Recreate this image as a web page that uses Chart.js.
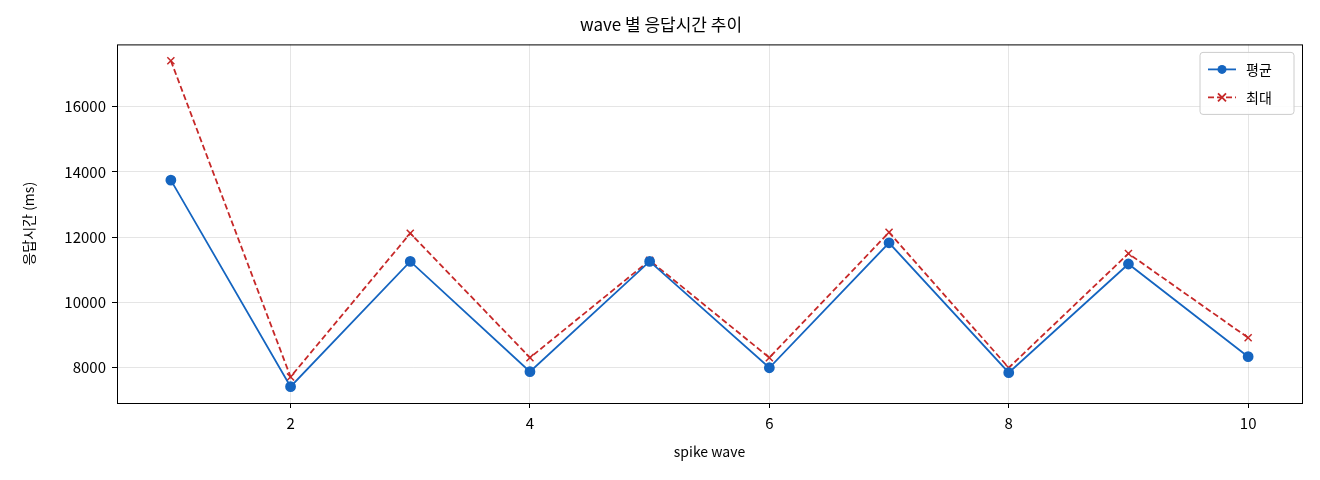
<!DOCTYPE html>
<html>
<head>
<meta charset="utf-8">
<script src="https://cdn.jsdelivr.net/npm/chart.js@4"></script>
<style>
  body { margin: 0; background: #fff; }
  #wrap { width: 1320px; height: 480px; }
</style>
</head>
<body>
<div id="wrap"><canvas id="c" width="1320" height="480"></canvas></div>
<script>
const FONT = '"Noto Sans CJK KR", "Noto Sans", sans-serif';

// --- data ---
const waves = [1, 2, 3, 4, 5, 6, 7, 8, 9, 10];
const avgMs = [13750, 7420, 11260, 7880, 11260, 8000, 11830, 7850, 11180, 8340];
const maxMs = [17410, 7720, 12120, 8310, 11290, 8310, 12150, 8000, 11500, 8920];

const toPoints = arr => arr.map((v, i) => ({ x: waves[i], y: v }));

// frame around plot + legend box in the upper right
const framePlugin = {
    id: 'frame',
    afterDraw(chart) {
        const { ctx, chartArea: a } = chart;
        ctx.save();
        ctx.strokeStyle = '#000';
        ctx.lineWidth = 1;
        ctx.strokeRect(a.left + 0.5, a.top + 0.5, a.right - a.left, a.bottom - a.top);

        // legend
        const bx = a.right - 102, by = a.top + 8, bw = 94, bh = 62;
        ctx.fillStyle = 'rgba(255,255,255,0.85)';
        ctx.strokeStyle = '#ccc';
        ctx.beginPath();
        ctx.roundRect(bx, by, bw, bh, 3);
        ctx.fill();
        ctx.stroke();
        ctx.font = '14px ' + FONT;
        ctx.textBaseline = 'middle';
        chart.data.datasets.forEach((ds, i) => {
            const y = by + 17 + i * 28;
            ctx.strokeStyle = ds.borderColor;
            ctx.lineWidth = 1.8;
            ctx.setLineDash(ds.borderDash || []);
            ctx.beginPath();
            ctx.moveTo(bx + 8, y);
            ctx.lineTo(bx + 36, y);
            ctx.stroke();
            ctx.setLineDash([]);
            const cx = bx + 22;
            if (ds.pointStyle === 'crossRot') {
                ctx.beginPath();
                ctx.moveTo(cx - 4, y - 4); ctx.lineTo(cx + 4, y + 4);
                ctx.moveTo(cx - 4, y + 4); ctx.lineTo(cx + 4, y - 4);
                ctx.stroke();
            } else {
                ctx.fillStyle = ds.borderColor;
                ctx.beginPath();
                ctx.arc(cx, y, 4.5, 0, Math.PI * 2);
                ctx.fill();
            }
            ctx.fillStyle = '#000';
            ctx.fillText(ds.label, bx + 46, y);
        });
        ctx.restore();
    }
};

new Chart(document.getElementById('c'), {
    type: 'line',
    data: {
        datasets: [
            { label: '평균', data: toPoints(avgMs), borderColor: '#1565c0', backgroundColor: '#1565c0',
              borderWidth: 1.8, pointRadius: 4.5, pointHoverRadius: 4.5, pointStyle: 'circle', tension: 0 },
            { label: '최대', data: toPoints(maxMs), borderColor: '#c62828', backgroundColor: '#c62828',
              borderWidth: 1.8, borderDash: [6, 3], pointRadius: 5, pointBorderWidth: 1.5,
              pointStyle: 'crossRot', tension: 0 }
        ]
    },
    options: {
        responsive: false,
        animation: false,
        layout: { padding: { left: 20, right: 18, top: 0, bottom: 20 } },
        plugins: {
            legend: { display: false },
            tooltip: { enabled: false },
            title: { display: true, text: 'wave 별 응답시간 추이', color: '#000',
                     font: { family: FONT, size: 17, weight: 'normal' }, padding: { top: 14, bottom: 10 } }
        },
        scales: {
            x: {
                type: 'linear', min: 0.55, max: 10.45,
                afterBuildTicks: s => { s.ticks = [2, 4, 6, 8, 10].map(v => ({ value: v })); },
                afterFit: s => { s.height = 57; },
                ticks: { color: '#000', font: { family: FONT, size: 15 }, padding: 6,
                         callback: v => String(v) },
                grid: { color: 'rgba(0,0,0,0.1)', tickColor: '#000', tickLength: 5 },
                border: { display: false },
                title: { display: true, text: 'spike wave', color: '#000', font: { family: FONT, size: 14 }, padding: 0 }
            },
            y: {
                min: 6920, max: 17910,
                afterBuildTicks: s => { s.ticks = [8000, 10000, 12000, 14000, 16000].map(v => ({ value: v })); },
                afterFit: s => { s.width = 97; },
                ticks: { color: '#000', font: { family: FONT, size: 15 }, padding: 6,
                         callback: v => String(v) },
                grid: { color: 'rgba(0,0,0,0.1)', tickColor: '#000', tickLength: 5 },
                border: { display: false },
                title: { display: true, text: '응답시간 (ms)', color: '#000', font: { family: FONT, size: 14 }, padding: 0 }
            }
        }
    },
    plugins: [framePlugin]
});
</script>
</body>
</html>
